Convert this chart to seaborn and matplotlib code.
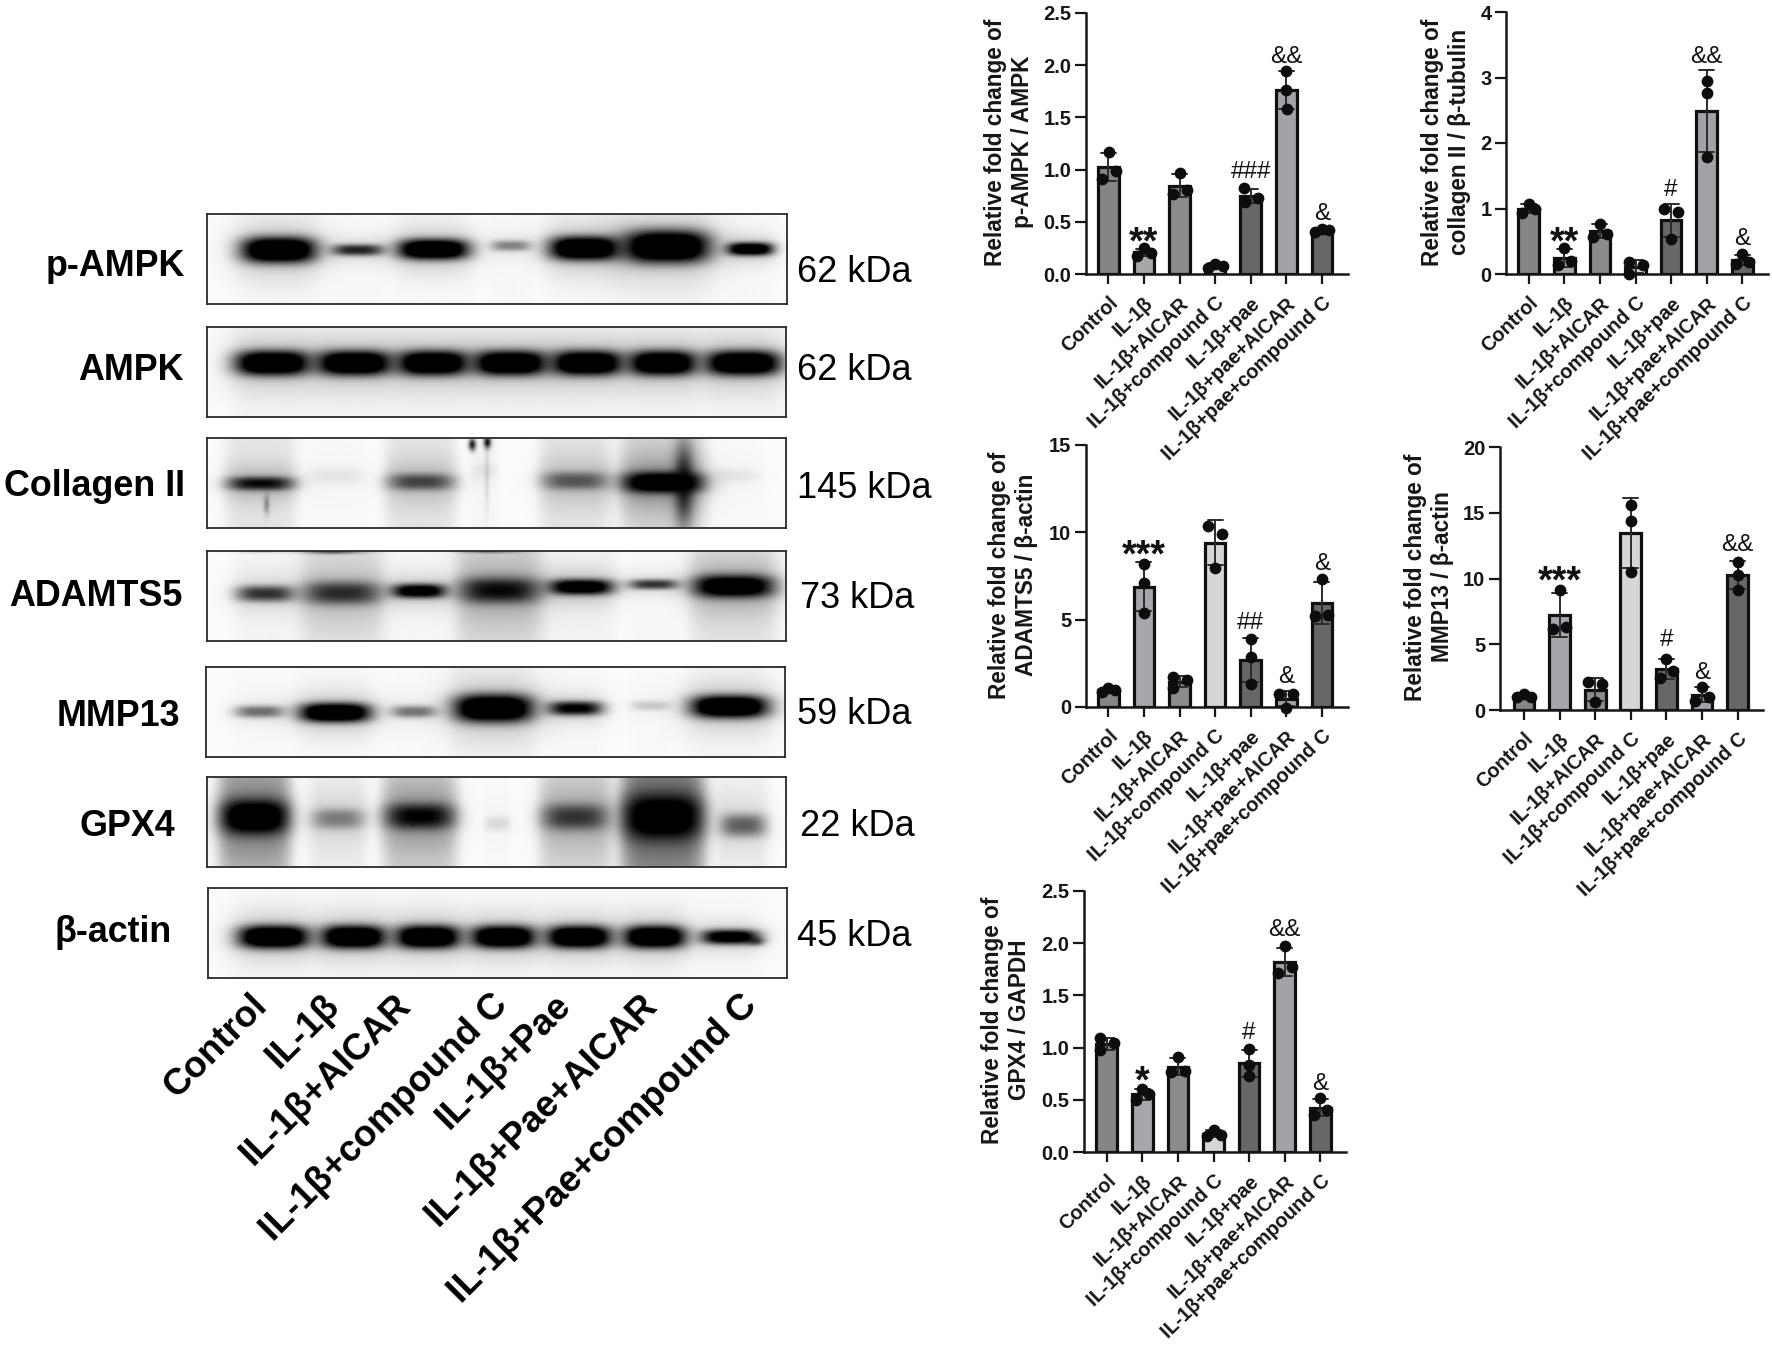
import numpy as np
import pandas as pd
import matplotlib
matplotlib.use("Agg")
import matplotlib.pyplot as plt
from matplotlib.transforms import Affine2D, IdentityTransform
import seaborn as sns

# ---------- data ----------
groups = ["Control", "IL-1β", "IL-1β+AICAR", "IL-1β+compound C", "IL-1β+pae",
          "IL-1β+pae+AICAR", "IL-1β+pae+compound C"]
blot_groups = ["Control", "IL-1β", "IL-1β+AICAR", "IL-1β+compound C", "IL-1β+Pae",
               "IL-1β+Pae+AICAR", "IL-1β+Pae+compound C"]

pampk_vals = [[1.17, 0.985, 0.91], [0.245, 0.20, 0.175], [0.97, 0.80, 0.77], [0.10, 0.08, 0.055],
              [0.825, 0.73, 0.69], [1.945, 1.76, 1.58], [0.43, 0.42, 0.40]]
collagen_vals = [[1.07, 0.99, 0.93], [0.40, 0.20, 0.13], [0.77, 0.61, 0.57], [0.19, 0.14, 0.0],
                 [0.99, 0.94, 0.53], [2.94, 2.76, 1.78], [0.305, 0.19, 0.15]]
adamts_vals = [[1.11, 0.96, 0.86], [8.18, 7.11, 5.39], [1.72, 1.53, 1.11], [10.38, 9.88, 7.97],
               [3.88, 2.87, 1.34], [0.73, 0.73, -0.04], [7.32, 5.2, 5.29]]
mmp_vals = [[1.19, 1.02, 0.96], [9.14, 6.17, 6.29], [2.11, 1.98, 0.58], [15.6, 14.37, 10.48],
            [3.9, 2.97, 2.41], [1.78, 1.02, 0.71], [11.27, 10.28, 9.14]]
gpx_vals = [[1.09, 1.04, 0.98], [0.60, 0.557, 0.50], [0.914, 0.777, 0.764], [0.213, 0.166, 0.15],
            [0.987, 0.834, 0.726], [1.97, 1.774, 1.71], [0.513, 0.40, 0.357]]

pampk_jit = [[.02, .22, -.17], [0, .21, -.19], [0, .21, -.18], [0, .21, -.19], [-.18, .2, -.17], [0, 0, .02], [0, .2, -.2]]
collagen_jit = [[0, .18, -.18], [0, .19, -.19], [0, .2, -.19], [-.18, .2, -.18], [-.19, .19, 0], [0, 0, 0], [0, .2, -.19]]
adamts_jit = [[0, .2, -.19], [0, 0, 0], [-.18, .2, -.18], [-.19, .2, 0], [0, 0, 0], [-.2, .2, 0], [0, -.2, .18]]
mmp_jit = [[0, .19, -.19], [0, -.19, .19], [-.19, .19, 0], [0, 0, 0], [0, .19, -.19], [0, .2, -.2], [0, 0, 0]]
gpx_jit = [[-.18, .2, -.18], [0, .2, -.19], [0, .2, -.2], [0, .2, -.19], [0, 0, 0], [0, .2, -.19], [0, .19, -.19]]

pampk_marks = [("**", 1, .37), ("###", 4, .98), ("&&", 5, 2.08), ("&", 6, .574)]
collagen_marks = [("**", 1, .595), ("#", 4, 1.28), ("&&", 5, 3.32), ("&", 6, .534)]
adamts_marks = [("***", 1, 9.08), ("##", 4, 4.82), ("&", 5, 1.72), ("&", 6, 8.18)]
mmp_marks = [("***", 1, 10.33), ("#", 4, 5.33), ("&", 5, 2.84), ("&&", 6, 12.56)]
gpx_marks = [("*", 1, .748), ("#", 4, 1.143), ("&&", 5, 2.124), ("&", 6, .65)]

bar_colors = ["#858585", "#a6a6ab", "#8b8b8b", "#d6d6d6", "#676767", "#a2a2a8", "#676767"]

# blot band strengths per lane
pampk_band = [1.0, .55, 1.0, .28, 1.0, 1.0, .9]
ampk_band = [1.0] * 7
coll_band = [.62, .04, .42, .03, .36, 1.0, .04]
adam_band = [.5, .5, .8, .62, .85, .5, .92]
mmp_band = [.34, 1.0, .32, 1.0, .68, .11, 1.0]
gpx_band = [1.0, .27, .66, .07, .45, 1.0, .36]
actin_band = [1.0, 1.0, 1.0, 1.0, 1.0, 1.0, .8]
# lane smear strengths
pampk_smear = [.03] * 7
ampk_smear = [.05] * 7
coll_smear = [.2, .02, .2, .04, .2, .32, .02]
adam_smear = [.06, .2, .05, .25, .08, .03, .2]
mmp_smear = [.02, .03, .02, .05, .03, .02, .04]
gpx_smear = [.42, .12, .34, .02, .27, .55, .08]
actin_smear = [.02] * 7

kda_labels = ["62 kDa", "62 kDa", "145 kDa", "73 kDa", "59 kDa", "22 kDa", "45 kDa"]
blot_names = ["p-AMPK", "AMPK", "Collagen II", "ADAMTS5", "MMP13", "GPX4", "β-actin"]

# ---------- layout ----------
W, H = 1772, 1348
FONT = "Liberation Sans"
INK = "#161616"
sns.set_theme(style="white")
plt.rcParams["font.family"] = [FONT, "DejaVu Sans"]
fig = plt.figure(figsize=(W / 100, H / 100), dpi=100, facecolor="white")


def px_axes(l, t, r, b):
    return fig.add_axes([l / W, 1 - b / H, (r - l) / W, (b - t) / H])


# (blot index) left, top, right, bottom in pixels
boxes = [(207, 214, 787, 304), (207, 327, 786, 417), (207, 438, 786, 528), (207, 551, 786, 641),
         (206, 667, 785, 757), (207, 777, 786, 867), (208, 888, 787, 978)]
# lane geometry in a 956 x 270 frame: centre x, half width, centre y, half height
geo = [
    ([118, 248, 373, 501, 623, 758, 896], [60, 42, 57, 32, 57, 70, 37], [108, 108, 106, 95, 103, 98, 105], [38, 17, 30, 16, 35, 48, 19]),
    ([108, 243, 373, 501, 628, 753, 886], [60, 60, 57, 59, 57, 54, 60], [110] * 7, [36] * 7),
    ([88, 213, 353, 458, 608, 753, 873], [52, 45, 52, 20, 52, 62, 40], [138, 115, 133, 100, 130, 135, 115], [20, 25, 24, 20, 26, 30, 20]),
    ([96, 223, 350, 483, 618, 738, 870], [47, 62, 44, 64, 52, 40, 64], [128, 126, 120, 118, 108, 100, 106], [24, 34, 21, 38, 23, 15, 33]),
    ([88, 213, 343, 475, 610, 735, 865], [40, 57, 37, 64, 44, 32, 62], [134, 137, 134, 124, 124, 116, 119], [18, 28, 18, 41, 21, 15, 33]),
    ([78, 216, 351, 480, 608, 753, 886], [52, 42, 54, 20, 52, 60, 37], [120, 125, 118, 140, 120, 120, 145], [50, 30, 38, 22, 38, 64, 34]),
    ([108, 240, 363, 488, 613, 738, 863], [57, 52, 52, 52, 52, 50, 47], [147] * 7, [34, 34, 34, 33, 33, 33, 22]),
]
lane_scale = [(pampk_band, pampk_smear), (ampk_band, ampk_smear), (coll_band, coll_smear), (adam_band, adam_smear),
              (mmp_band, mmp_smear), (gpx_band, gpx_smear), (actin_band, actin_smear)]
# small details: blot index, x, y, half width, half height, strength
blot_details = [
    (2, 438, 22, 6, 18, .9), (2, 463, 15, 6, 18, .95), (2, 462, 110, 4, 110, .12),
    (2, 788, 140, 16, 120, .85), (2, 98, 200, 5, 30, .35),
    (3, 207, 0, 48, 8, .7), (3, 466, 0, 48, 6, .5), (3, 88, 0, 40, 6, .2),
    (5, 340, 145, 3, 3, .5), (6, 905, 160, 14, 12, .6),
]
name_pos = [(185, 266), (184, 370), (185, 486), (182, 596), (180, 716), (175, 826), (172, 933)]
kda_pos = [(797, 272), (797, 371), (797, 489), (800, 598), (797, 715), (800, 826), (797, 937)]


def blot_image(idx, strength, smear, g):
    yy, xx = np.mgrid[0:270:270j, 0:956:600j]
    clear = np.ones_like(xx)
    cx, hw, cy, hh = g
    for s, m, x0, w, y0, h in zip(strength, smear, cx, hw, cy, hh):
        dx = np.abs(xx - x0) / w
        dy = np.abs(yy - y0) / h
        core = s * 1.55 * np.exp(-(dx ** 3.2 + dy ** 2.6))
        halo = .2 * s * np.exp(-((dx / 1.3) ** 3 + (dy / 2.3) ** 2))
        lane = m * np.exp(-(dx / 1.15) ** 6) * (.45 + .55 * np.exp(-(dy / 3.2) ** 2))
        clear *= (1 - np.clip(core, 0, 1)) * (1 - halo) * (1 - lane)
    for b, x0, y0, w, h, s in blot_details:
        if b == idx:
            clear *= 1 - s * np.exp(-((xx - x0) / w) ** 2) * np.exp(-((yy - y0) / h) ** 2)
    return .985 * clear


for i, (box, (bd, sm), g) in enumerate(zip(boxes, lane_scale, geo)):
    a = px_axes(*box)
    a.imshow(blot_image(i, bd, sm, g), cmap="gray", vmin=0, vmax=1, aspect="auto", interpolation="bilinear")
    a.set_xticks([]); a.set_yticks([])
    for s in a.spines.values():
        s.set_visible(True); s.set_linewidth(1.3); s.set_color("#2a2a2a")

bg = fig.add_axes([0, 0, 1, 1], zorder=-1)
bg.set_xlim(0, W); bg.set_ylim(H, 0); bg.axis("off")
for t, (x, y) in zip(blot_names, name_pos):
    bg.text(x, y, t, ha="right", va="center", fontsize=25.8, fontweight="bold", color="black")
for t, (x, y) in zip(kda_labels, kda_pos):
    bg.text(x, y, t, ha="left", va="center", fontsize=26, color="black")
rot_anchor_x = [262, 334, 406, 503, 566, 652, 752]
for t, x in zip(blot_groups, rot_anchor_x):
    bg.text(x, 1000, t, ha="right", va="center", rotation=45, rotation_mode="anchor",
            fontsize=26.5, fontweight="bold", color="black")


def panel(vals, jit, marks, rect, c0, ymax, yticks, ytl, ylabel, lab_xy):
    l, t, r, b = rect
    sp = 35.6
    ax = px_axes(l, t, r, b)
    df = pd.DataFrame({"group": np.repeat(groups, 3), "value": np.ravel(vals)})
    sns.barplot(data=df, x="group", y="value", order=groups, hue="group", hue_order=groups,
                palette=bar_colors, legend=False, errorbar="sd", capsize=.42, width=.58,
                saturation=1, linewidth=2.3, edgecolor="#101010",
                err_kws={"linewidth": 1.4, "color": "#2b2b2b"}, ax=ax)
    pos = (np.arange(len(groups))[:, None] + np.array(jit)).ravel()
    sns.scatterplot(x=pos, y=np.ravel(vals), s=72, color="#0d0d0d", linewidth=0, clip_on=False, zorder=6, ax=ax)
    ax.set_xlim((l - c0) / sp, (r - c0) / sp)
    ax.set_ylim(0, ymax)
    ax.set_yticks(yticks, ytl)
    ax.set_xticks(range(len(groups)), groups)
    ax.set_xlabel("")
    ax.tick_params(axis="x", labelrotation=44, length=7.5, width=1.6, labelsize=14.3, pad=6.5, color=INK, labelcolor=INK, bottom=True)
    ax.tick_params(axis="y", length=8, width=1.6, labelsize=14.5, pad=2.5, color=INK, labelcolor=INK, left=True)
    for lb in ax.get_xticklabels():
        lb.set_ha("right"); lb.set_rotation_mode("anchor"); lb.set_fontweight("bold")
    for lb in ax.get_yticklabels():
        lb.set_fontweight("bold")
    for s in ("top", "right"):
        ax.spines[s].set_visible(False)
    for s in ("left", "bottom"):
        ax.spines[s].set_linewidth(1.8); ax.spines[s].set_color(INK)
    ax.patch.set_alpha(0)
    ax.set_ylabel(ylabel, fontsize=16.3, fontweight="bold", color=INK, va="center", ha="center", linespacing=1.2)
    ax.yaxis.set_label_coords(lab_xy[0], H - lab_xy[1], transform=IdentityTransform())
    for txt, i, y in marks:
        star = txt.startswith("*")
        ax.annotate(txt, (i, y), xytext=(0, -6 if star else 0), textcoords="offset points", ha="center", va="center",
                    fontsize=27 if star else 17.5, fontweight="bold" if star else "normal",
                    color="#111111", annotation_clip=False, zorder=7)
    return ax


panel(pampk_vals, pampk_jit, pampk_marks, (1086, 13, 1348, 274), 1108.3, 2.5, [0, .5, 1, 1.5, 2, 2.5],
      ["0.0", "0.5", "1.0", "1.5", "2.0", "2.5"], "Relative fold change of\np-AMPK / AMPK", (1009, 142))
panel(collagen_vals, collagen_jit, collagen_marks, (1506, 12, 1768, 274), 1528.7, 4, [0, 1, 2, 3, 4],
      ["0", "1", "2", "3", "4"], "Relative fold change of\ncollagen II / β-tubulin", (1446, 142))
panel(adamts_vals, adamts_jit, adamts_marks, (1086, 445, 1348, 707), 1108.3, 15, [0, 5, 10, 15],
      ["0", "5", "10", "15"], "Relative fold change of\nADAMTS5 / β-actin", (1013, 575))
panel(mmp_vals, mmp_jit, mmp_marks, (1500, 447, 1763, 710), 1524, 20, [0, 5, 10, 15, 20],
      ["0", "5", "10", "15", "20"], "Relative fold change of\nMMP13 / β-actin", (1429, 577))
panel(gpx_vals, gpx_jit, gpx_marks, (1084, 891, 1346, 1152), 1106.7, 2.5, [0, .5, 1, 1.5, 2, 2.5],
      ["0.0", "0.5", "1.0", "1.5", "2.0", "2.5"], "Relative fold change of\nGPX4 / GAPDH", (1006, 1020))

fig.savefig("out.png", dpi=100, facecolor="white")
